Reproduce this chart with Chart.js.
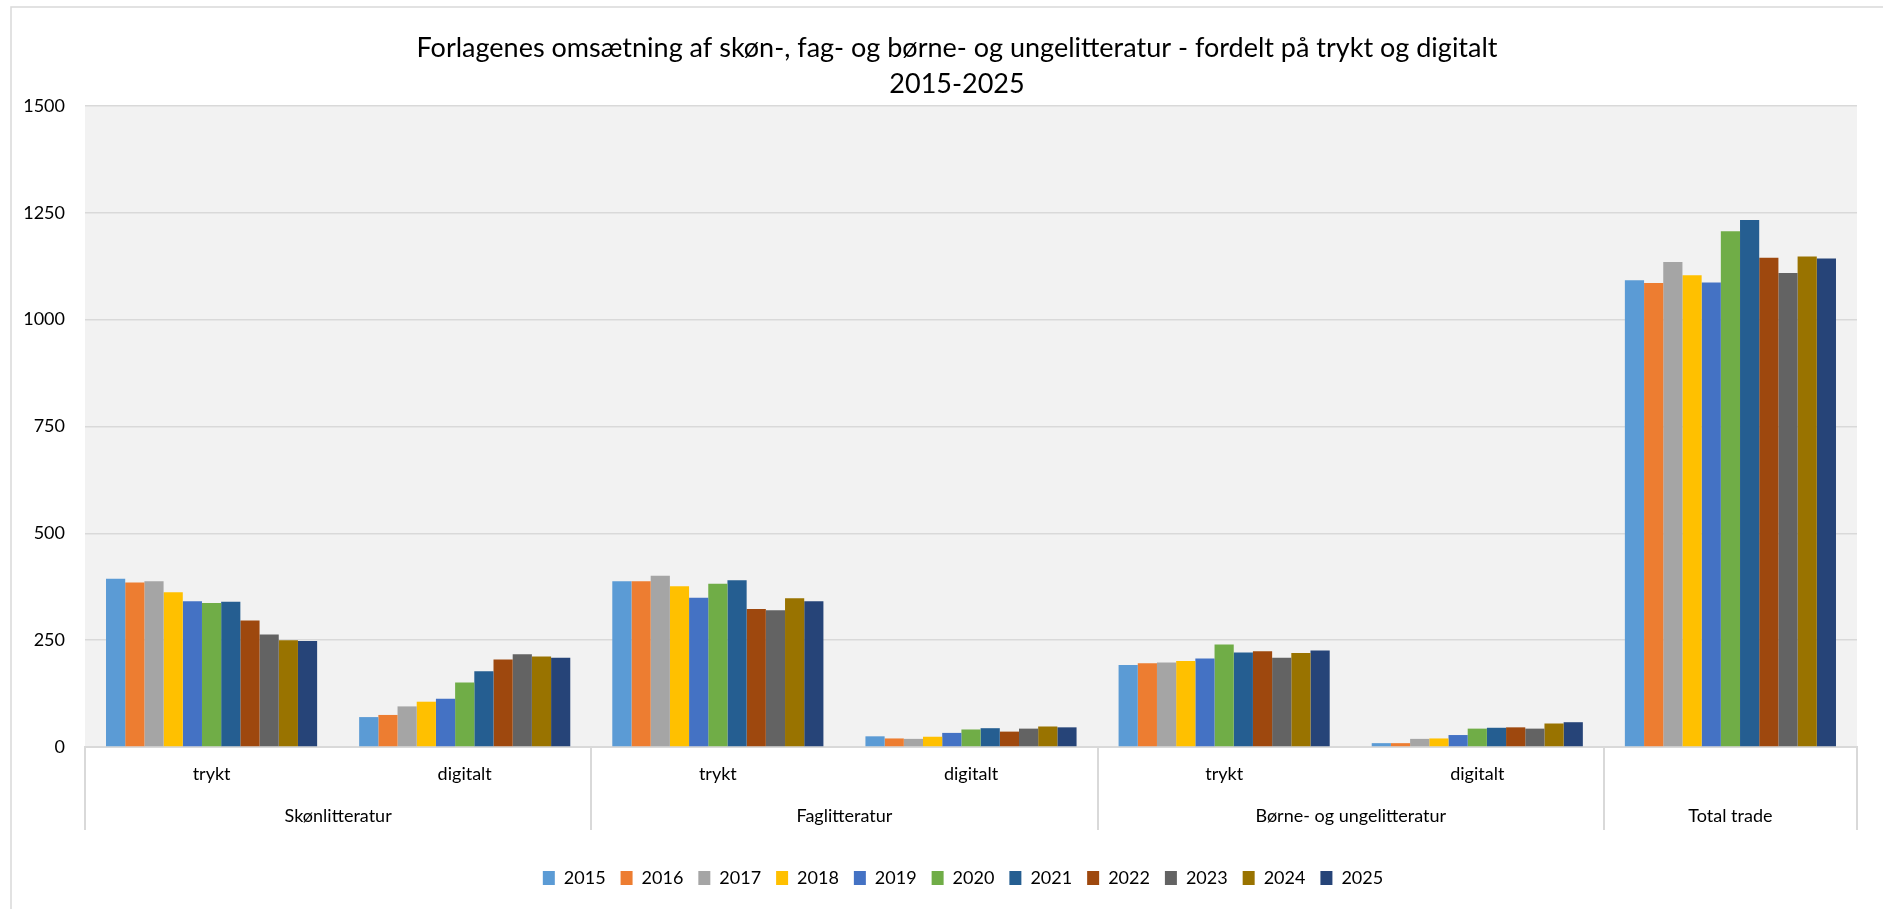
<!DOCTYPE html>
<html>
<head>
<meta charset="utf-8">
<script src="https://cdn.jsdelivr.net/npm/chart.js@4/dist/chart.umd.min.js"></script>
<style>
  html, body { margin: 0; padding: 0; background: #fff; }
  #wrap { position: relative; width: 1883px; height: 909px; }
</style>
</head>
<body>
<div id="wrap"><canvas id="chart" width="1883" height="909"></canvas></div>
<script>
// --- data ---
const categories = ['trykt', 'digitalt', 'trykt', 'digitalt', 'trykt', 'digitalt', ''];
const groups = ['Skønlitteratur', 'Faglitteratur', 'Børne- og ungelitteratur', 'Total trade'];
const groupSpans = [2, 2, 2, 1];
const years = ['2015', '2016', '2017', '2018', '2019', '2020', '2021', '2022', '2023', '2024', '2025'];
const yTicks = [0, 250, 500, 750, 1000, 1250, 1500];

const v2015 = [394, 70, 388, 25, 192, 9, 1092];
const v2016 = [385, 75, 388, 20, 196, 9, 1086];
const v2017 = [388, 95, 401, 19, 198, 19, 1135];
const v2018 = [362, 106, 376, 24, 201, 20, 1104];
const v2019 = [341, 113, 349, 33, 207, 28, 1087];
const v2020 = [337, 151, 382, 41, 240, 43, 1207];
const v2021 = [340, 177, 390, 44, 221, 45, 1233];
const v2022 = [296, 205, 323, 36, 224, 46, 1145];
const v2023 = [263, 217, 320, 43, 209, 43, 1109];
const v2024 = [250, 212, 348, 48, 220, 55, 1148];
const v2025 = [248, 209, 341, 46, 226, 58, 1143];

const colors = ['#5B9BD5', '#ED7D31', '#A5A5A5', '#FFC000', '#4472C4', '#70AD47',
  '#255E91', '#9E480E', '#636363', '#997300', '#264478'];

const series = [v2015, v2016, v2017, v2018, v2019, v2020, v2021, v2022, v2023, v2024, v2025];

const FONT = 'Lato, "Open Sans", sans-serif';
const LINE = '#d9d9d9';

// plot background, outer frame, category separators and group labels
const decor = {
  id: 'decor',
  afterLayout(chart) {
    // nudge title and legend a bit left, as in the original
    if (chart.titleBlock) { chart.titleBlock.left -= 14; chart.titleBlock.right -= 14; }
    if (chart.legend) { chart.legend.left -= 8; chart.legend.right -= 8; }
  },
  beforeDraw(chart) {
    const { ctx, chartArea: a } = chart;
    ctx.save();
    ctx.fillStyle = '#f2f2f2';
    ctx.fillRect(a.left, a.top, a.right - a.left, a.bottom - a.top);
    ctx.strokeStyle = LINE;
    ctx.lineWidth = 1.5;
    ctx.strokeRect(11, 7, 1900, 950);
    ctx.restore();
  },
  afterDraw(chart) {
    const { ctx, chartArea: a } = chart;
    const x = chart.scales.x;
    ctx.save();
    ctx.strokeStyle = LINE;
    ctx.lineWidth = 2;
    let idx = 0;
    const bounds = [0];
    groupSpans.forEach(s => { idx += s; bounds.push(idx); });
    bounds.forEach(b => {
      const px = Math.round(x.getPixelForValue(b - 0.5));
      ctx.beginPath();
      ctx.moveTo(px, a.bottom);
      ctx.lineTo(px, a.bottom + 83);
      ctx.stroke();
    });
    ctx.fillStyle = '#000';
    ctx.font = '18px ' + FONT;
    ctx.textAlign = 'center';
    ctx.textBaseline = 'middle';
    groups.forEach((g, i) => {
      const c = (x.getPixelForValue(bounds[i] - 0.5) + x.getPixelForValue(bounds[i + 1] - 0.5)) / 2;
      ctx.fillText(g, c, a.bottom + 69);
    });
    ctx.restore();
  }
};

new Chart(document.getElementById('chart'), {
  type: 'bar',
  data: {
    labels: categories,
    datasets: years.map((y, i) => ({
      label: y,
      data: series[i],
      backgroundColor: colors[i],
      categoryPercentage: 0.834,
      barPercentage: 1.0,
    }))
  },
  options: {
    responsive: false,
    animation: false,
    layout: { padding: { left: 0, right: 26, top: 0, bottom: 12 } },
    plugins: {
      title: {
        display: true,
        fullSize: false,
        text: ['Forlagenes omsætning af skøn-, fag- og børne- og ungelitteratur - fordelt på trykt og digitalt', '2015-2025'],
        color: '#000',
        font: { family: FONT, size: 27, weight: 'normal', lineHeight: 1.333 },
        padding: { top: 30, bottom: 4 }
      },
      legend: {
        position: 'bottom',
        fullSize: false,
        labels: {
          color: '#000',
          font: { family: FONT, size: 18 },
          boxWidth: 12,
          boxHeight: 14,
          padding: 15
        }
      },
      tooltip: { enabled: false }
    },
    scales: {
      x: {
        grid: { display: false },
        border: { display: true, color: LINE, width: 2 },
        ticks: { color: '#000', font: { family: FONT, size: 18 }, padding: 8, maxRotation: 0 },
        afterFit(s) { s.height = 107; }
      },
      y: {
        min: 0,
        max: 1500,
        afterBuildTicks(s) { s.ticks = yTicks.map(v => ({ value: v })); },
        grid: { color: LINE, lineWidth: 1.5, drawTicks: false },
        border: { display: false },
        ticks: {
          color: '#000',
          font: { family: FONT, size: 18 },
          padding: 20,
          callback: v => String(v)
        },
        afterFit(s) { s.width = 85; }
      }
    }
  },
  plugins: [decor]
});
</script>
</body>
</html>
